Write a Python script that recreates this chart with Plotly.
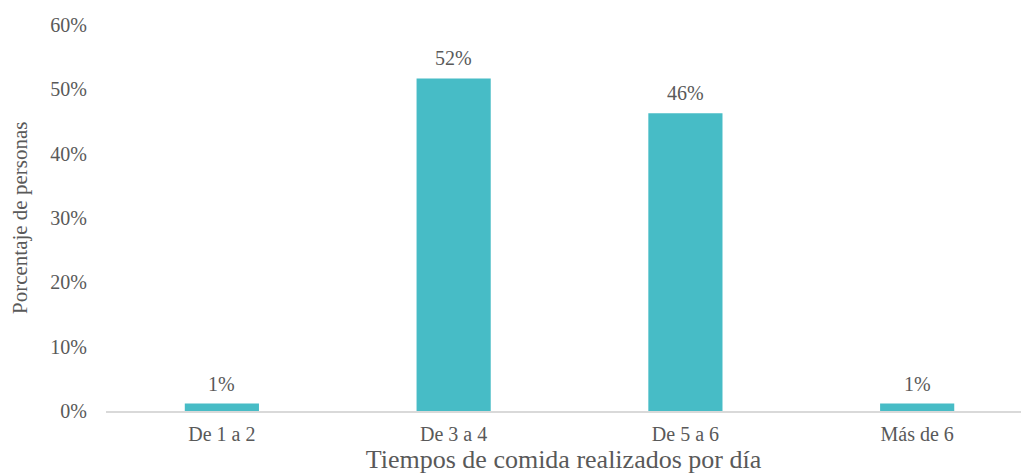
import plotly.graph_objects as go

categories = ["De 1 a 2", "De 3 a 4", "De 5 a 6", "Más de 6"]
shares = [0.0115, 0.517, 0.463, 0.0115]
y_ticks = [0, 0.1, 0.2, 0.3, 0.4, 0.5, 0.6]

bar_color = "#47BCC6"
text_color = "#595959"
font_family = "Liberation Serif, Times New Roman, serif"

left_margin = 106
plot_width = 1021 - left_margin

fig = go.Figure(
    go.Bar(
        x=categories,
        y=shares,
        marker=dict(color=bar_color, line=dict(width=0)),
        width=0.32,
        cliponaxis=False,
    )
)

# value labels above each bar
for cat, val in zip(categories, shares):
    fig.add_annotation(
        x=cat,
        y=val,
        text=f"{val:.0%}",
        showarrow=False,
        yanchor="bottom",
        yshift=7,
        font=dict(family=font_family, size=20, color=text_color),
    )

# vertical axis title
fig.add_annotation(
    xref="paper",
    yref="paper",
    x=-(left_margin - 20) / plot_width,
    y=0.5,
    xanchor="center",
    yanchor="middle",
    text="Porcentaje de personas",
    textangle=-90,
    showarrow=False,
    font=dict(family=font_family, size=21, color=text_color),
)

fig.update_layout(
    width=1021,
    height=475,
    margin=dict(l=left_margin, r=0, t=25, b=64),
    paper_bgcolor="white",
    plot_bgcolor="white",
    showlegend=False,
    font=dict(family=font_family, size=20, color=text_color),
    xaxis=dict(
        type="category",
        range=[-0.5, 3.448],
        automargin=False,
        showline=True,
        linecolor="#D9D9D9",
        linewidth=1.5,
        showgrid=False,
        ticks="",
        tickfont=dict(family=font_family, size=20, color=text_color),
        ticklabelstandoff=4,
        title=dict(
            text="Tiempos de comida realizados por día",
            font=dict(family=font_family, size=26, color=text_color),
            standoff=2,
        ),
    ),
    yaxis=dict(
        range=[0, 0.6],
        automargin=False,
        tickvals=y_ticks,
        tickformat=".0%",
        showline=False,
        showgrid=False,
        zeroline=False,
        ticks="",
        ticklabelstandoff=18,
        tickfont=dict(family=font_family, size=20, color=text_color),
    ),
)

fig.write_html("out.html")
